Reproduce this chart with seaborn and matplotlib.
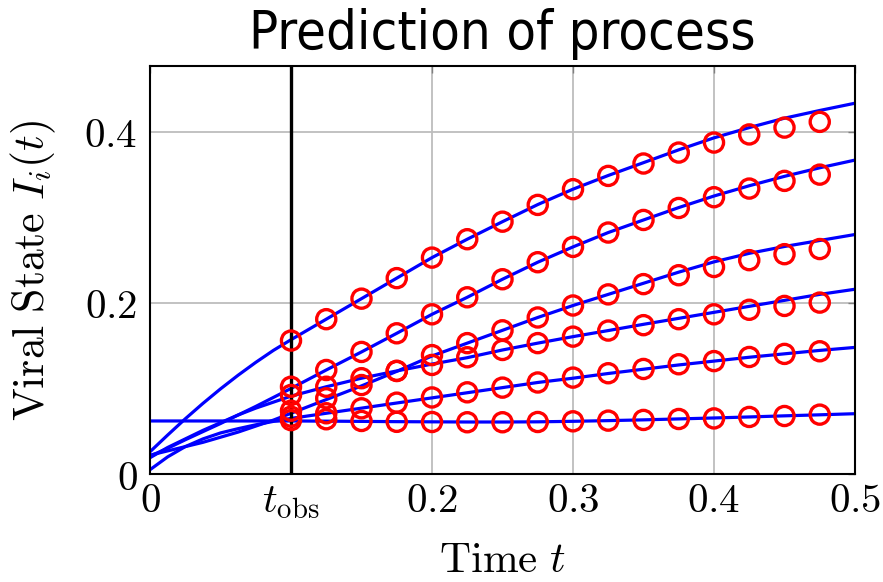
import numpy as np
import pandas as pd
import matplotlib
matplotlib.use("Agg")
import matplotlib.pyplot as plt
import seaborn as sns

# ---- data ----
t_line = [0, 0.0125, 0.025, 0.0375, 0.05, 0.0625, 0.075, 0.0875, 0.1,
          0.125, 0.15, 0.175, 0.2, 0.225, 0.25, 0.275, 0.3, 0.325, 0.35,
          0.375, 0.4, 0.425, 0.45, 0.475, 0.5]
pred_1 = [0.026, 0.0455, 0.0645, 0.0825, 0.0995, 0.1155, 0.1305, 0.1445, 0.157,
          0.181, 0.205, 0.229, 0.253, 0.2745, 0.295, 0.315, 0.333, 0.349, 0.364,
          0.379, 0.393, 0.405, 0.416, 0.425, 0.4335]
pred_2 = [0.021, 0.030, 0.040, 0.0495, 0.059, 0.069, 0.079, 0.0895, 0.100,
          0.1216, 0.1427, 0.1645, 0.1867, 0.2066, 0.2277, 0.2476, 0.2655, 0.2823, 0.297,
          0.3115, 0.325, 0.337, 0.348, 0.358, 0.367]
pred_3 = [0.022, 0.027, 0.032, 0.037, 0.043, 0.049, 0.056, 0.063, 0.071,
          0.087, 0.103, 0.120, 0.138, 0.153, 0.168, 0.183, 0.197, 0.210, 0.223,
          0.236, 0.248, 0.258, 0.266, 0.273, 0.280]
pred_4 = [0.019, 0.031, 0.041, 0.051, 0.060, 0.069, 0.077, 0.084, 0.091,
          0.102, 0.112, 0.1205, 0.1285, 0.136, 0.145, 0.153, 0.1606, 0.1677, 0.175,
          0.182, 0.189, 0.196, 0.203, 0.210, 0.216]
pred_5 = [0.005, 0.020, 0.032, 0.041, 0.048, 0.053, 0.0575, 0.0615, 0.065,
          0.071, 0.077, 0.083, 0.089, 0.095, 0.101, 0.107, 0.112, 0.1175, 0.1225,
          0.1275, 0.132, 0.1365, 0.1405, 0.1445, 0.148]
pred_6 = [0.062, 0.062, 0.062, 0.062, 0.062, 0.062, 0.062, 0.062, 0.062,
          0.0618, 0.0615, 0.0612, 0.061, 0.0608, 0.0608, 0.061, 0.0616, 0.0624, 0.0633,
          0.0644, 0.0655, 0.0667, 0.068, 0.0692, 0.0705]

t_obs_pts = [0.1, 0.125, 0.15, 0.175, 0.2, 0.225, 0.25, 0.275, 0.3, 0.325,
             0.35, 0.375, 0.4, 0.425, 0.45, 0.475]
obs_1 = [0.156, 0.181, 0.205, 0.229, 0.253, 0.2745, 0.295, 0.3146, 0.333, 0.3485,
         0.363, 0.3758, 0.3875, 0.397, 0.405, 0.4117]
obs_2 = [0.102, 0.1216, 0.1427, 0.1645, 0.1867, 0.2066, 0.2277, 0.2476, 0.2655, 0.2823,
         0.297, 0.311, 0.3236, 0.3337, 0.3427, 0.350]
obs_3 = [0.074, 0.0885, 0.104, 0.1205, 0.139, 0.153, 0.168, 0.183, 0.197, 0.210,
         0.222, 0.2324, 0.242, 0.250, 0.257, 0.263]
obs_4 = [0.0924, 0.102, 0.112, 0.1205, 0.1275, 0.1365, 0.145, 0.153, 0.1606, 0.1677,
         0.174, 0.181, 0.1867, 0.192, 0.1965, 0.2004]
obs_5 = [0.067, 0.071, 0.0768, 0.0834, 0.0895, 0.0955, 0.101, 0.107, 0.1127, 0.1178,
         0.1228, 0.1283, 0.132, 0.1368, 0.1404, 0.1435]
obs_6 = [0.063, 0.064, 0.062, 0.061, 0.0608, 0.0605, 0.0605, 0.0608, 0.0616, 0.0624,
         0.0632, 0.0643, 0.065, 0.0667, 0.0678, 0.0694]

t_obs = 0.1
x_ticks = [0, 0.1, 0.2, 0.3, 0.4, 0.5]
x_ticklabels = [r"$0$", r"$t_{\mathrm{obs}}$", r"$0.2$", r"$0.3$", r"$0.4$", r"$0.5$"]
y_ticks = [0, 0.2, 0.4]
y_ticklabels = [r"$0$", r"$0.2$", r"$0.4$"]

preds = [pred_1, pred_2, pred_3, pred_4, pred_5, pred_6]
obss = [obs_1, obs_2, obs_3, obs_4, obs_5, obs_6]
df_line = pd.concat([pd.DataFrame({"t": t_line, "I": p, "node": i}) for i, p in enumerate(preds)],
                    ignore_index=True)
df_obs = pd.concat([pd.DataFrame({"t": t_obs_pts, "I": o, "node": i}) for i, o in enumerate(obss)],
                   ignore_index=True)

# ---- style ----
sns.set_theme(style="white")
plt.rcParams["mathtext.fontset"] = "cm"
plt.rcParams["font.family"] = ["DejaVu Sans"]
plt.rcParams["text.color"] = "black"
plt.rcParams["axes.labelcolor"] = "black"
plt.rcParams["xtick.color"] = "black"
plt.rcParams["ytick.color"] = "black"

fig = plt.figure(figsize=(8.83, 5.82), dpi=100)
ax = fig.add_axes([150 / 883, 1 - 474 / 582, 705 / 883, 408 / 582])

ax.set_xlim(0, 0.5)
ax.set_ylim(0, 0.477)
ax.set_xticks(x_ticks)
ax.set_yticks(y_ticks)
ax.grid(True, color="#bdbdbd", linewidth=1.3, zorder=0)
ax.set_axisbelow(True)

sns.lineplot(data=df_line, x="t", y="I", units="node", estimator=None, sort=False,
             color="#0000ff", linewidth=2.3, ax=ax, zorder=3, legend=False)
ax.axvline(t_obs, color="black", linewidth=2.4, zorder=4)
sns.scatterplot(data=df_obs, x="t", y="I", marker="o", s=190, facecolor="none",
                edgecolor="#ff0000", color="#ff0000", linewidth=2.4, ax=ax, zorder=5,
                legend=False)

ax.set_xticklabels(x_ticklabels)
ax.set_yticklabels(y_ticklabels)
ax.tick_params(axis="both", which="major", labelsize=29.5, direction="in", length=5,
               width=1, color="#7f7f7f", labelcolor="black", top=True, right=True)
ax.tick_params(axis="x", pad=5)
ax.tick_params(axis="y", pad=9)
for sp in ax.spines.values():
    sp.set_color("black")
    sp.set_linewidth(1.5)
    sp.set_zorder(6)

ax.set_xlabel(r"$\mathrm{Time}\ t$", fontsize=31, labelpad=13)
ax.set_ylabel(r"$\mathrm{Viral\ State}\ I_i(t)$", fontsize=31.5, labelpad=19)
ax.set_title("Prediction of process", fontsize=39, pad=12, color="black",
             fontfamily="DejaVu Sans", fontstretch="condensed")

fig.savefig("out.png", dpi=100)
